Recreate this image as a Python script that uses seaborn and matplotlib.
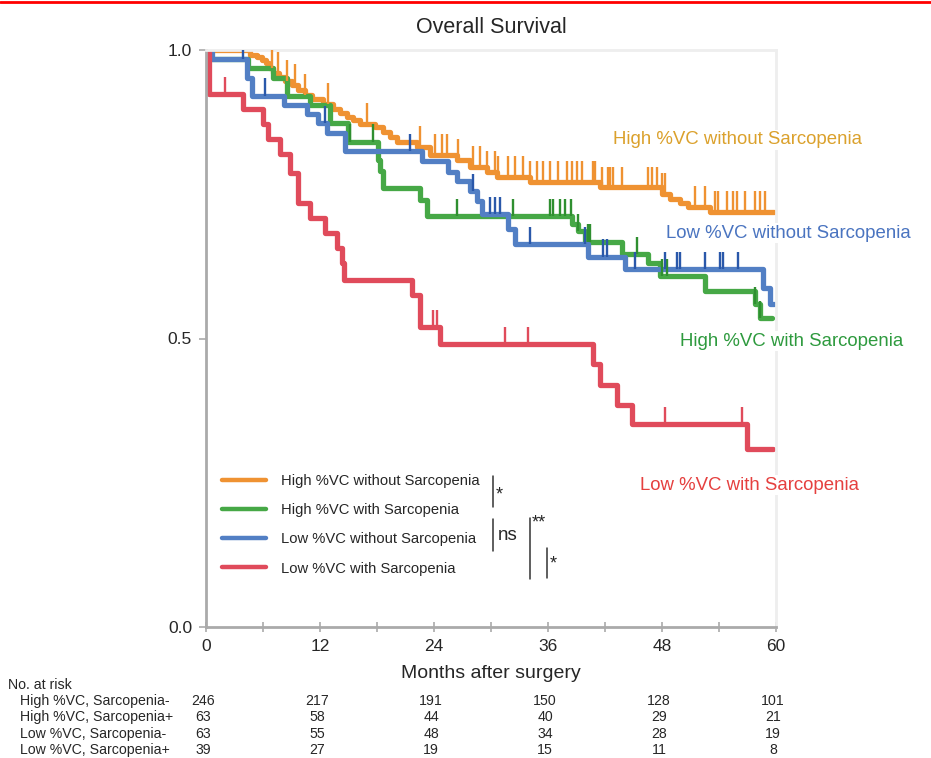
import numpy as np
import pandas as pd
import seaborn as sns
import matplotlib.pyplot as plt
from matplotlib.lines import Line2D
from matplotlib.transforms import blended_transform_factory

sns.set_style("ticks")
plt.rcParams['font.family'] = ['Liberation Sans', 'DejaVu Sans']

# Groups, in legend order
groups = ["High %VC without Sarcopenia", "High %VC with Sarcopenia",
          "Low %VC without Sarcopenia", "Low %VC with Sarcopenia"]

# Kaplan-Meier steps: month of each drop and survival after it
hi_nosarc_t = [0, 4.6, 5.4, 5.9, 6.3, 6.6, 7.1, 7.7, 8.3, 9.1, 9.7, 10.4, 11.2, 12.3, 13.4, 14.1,
               14.8, 15.5, 16.2, 17.8, 18.6, 19.4, 20.1, 22.2, 23.6, 26.4, 27.8, 29.6, 30.6, 34.1,
               41.5, 48.0, 48.8, 49.9, 50.7, 53.1]
hi_nosarc_s = [1.0, 0.992, 0.988, 0.983, 0.977, 0.969, 0.96, 0.953, 0.946, 0.939, 0.93, 0.922,
               0.915, 0.907, 0.897, 0.89, 0.884, 0.878, 0.872, 0.866, 0.858, 0.849, 0.84, 0.832,
               0.818, 0.809, 0.797, 0.789, 0.78, 0.771, 0.762, 0.75, 0.742, 0.735, 0.728, 0.72]
hi_nosarc_cens = [6.9, 7.6, 8.5, 9.4, 10.4, 12.8, 16.9, 22.5, 24.1, 24.8, 25.4, 26.5, 28.1, 28.8,
                  29.6, 30.4, 30.7, 31.8, 32.5, 33.4, 34.1, 34.8, 35.5, 36.2, 37.1, 38.0, 38.5,
                  39.1, 39.6, 40.7, 40.9, 41.7, 42.3, 42.5, 42.8, 43.8, 46.5, 46.9, 47.5, 48.0,
                  48.3, 51.5, 52.5, 53.6, 53.9, 54.8, 55.5, 55.9, 56.7, 57.8, 58.3, 58.8]
hi_nosarc_end = 59.8

hi_sarc_t = [0, 0.4, 4.4, 7.1, 8.5, 10.9, 13.1, 14.9, 18.1, 18.3, 18.6, 22.5, 23.3, 38.5, 39.2,
             39.9, 43.8, 46.5, 47.8, 52.5, 57.8, 58.3]
hi_sarc_s = [1.0, 0.984, 0.968, 0.952, 0.921, 0.905, 0.873, 0.841, 0.81, 0.79, 0.76, 0.74, 0.712,
             0.698, 0.686, 0.668, 0.646, 0.63, 0.608, 0.582, 0.559, 0.535]
hi_sarc_cens = [15.2, 17.6, 26.4, 32.3, 36.2, 36.5, 37.3, 37.8, 38.4, 39.2, 40.2, 40.4, 45.4,
                48.0, 48.5, 57.8, 58.3]
hi_sarc_end = 59.6

lo_nosarc_t = [0, 0.6, 4.3, 4.8, 8.2, 10.6, 11.8, 12.7, 14.6, 22.7, 25.5, 26.4, 27.8, 28.5, 29.1,
               31.8, 32.5, 40.2, 44.1, 58.6, 59.4]
lo_nosarc_s = [1.0, 0.984, 0.952, 0.921, 0.905, 0.889, 0.873, 0.857, 0.825, 0.808, 0.789, 0.773,
               0.755, 0.738, 0.715, 0.689, 0.663, 0.642, 0.62, 0.587, 0.559]
lo_nosarc_cens = [3.9, 6.2, 12.5, 21.5, 28.1, 29.9, 30.4, 30.9, 34.1, 39.9, 41.8, 42.2, 45.2,
                  48.3, 49.6, 49.9, 52.5, 54.1, 54.4, 56.0]
lo_nosarc_end = 59.8

lo_sarc_t = [0, 0.3, 3.9, 6.0, 6.5, 7.8, 8.8, 9.7, 10.9, 12.5, 13.8, 14.3, 14.5, 21.7, 22.5, 24.6,
             40.7, 41.5, 43.3, 44.8, 56.9]
lo_sarc_s = [1.0, 0.923, 0.897, 0.872, 0.846, 0.82, 0.787, 0.735, 0.709, 0.683, 0.657, 0.631,
             0.601, 0.575, 0.52, 0.49, 0.455, 0.42, 0.385, 0.352, 0.309]
lo_sarc_cens = [2.0, 23.9, 24.3, 31.5, 33.9, 48.3, 56.4]
lo_sarc_end = 59.7

# Number at risk table
risk_title = "No. at risk"
risk_labels = ["High %VC, Sarcopenia-", "High %VC, Sarcopenia+",
               "Low %VC, Sarcopenia-", "Low %VC, Sarcopenia+"]
risk_months = [0, 12, 24, 36, 48, 60]
risk_hi_nosarc = [246, 217, 191, 150, 128, 101]
risk_hi_sarc = [63, 58, 44, 40, 29, 21]
risk_lo_nosarc = [63, 55, 48, 34, 28, 19]
risk_lo_sarc = [39, 27, 19, 15, 11, 8]

line_colors = ["#EF9232", "#46A846", "#527FC4", "#E04B5B"]
tick_colors = ["#EF9232", "#2F8F30", "#2A58AA", "#E04B5B"]
label_colors = ["#DBA12C", "#2E9A3E", "#4A74C0", "#E5403F"]

curves = [
    (hi_nosarc_t, hi_nosarc_s, hi_nosarc_end, hi_nosarc_cens),
    (hi_sarc_t, hi_sarc_s, hi_sarc_end, hi_sarc_cens),
    (lo_nosarc_t, lo_nosarc_s, lo_nosarc_end, lo_nosarc_cens),
    (lo_sarc_t, lo_sarc_s, lo_sarc_end, lo_sarc_cens),
]

rows = []
for name, (t, s, end, _) in zip(groups, curves):
    for ti, si in zip(t + [end], s + [s[-1]]):
        rows.append({"month": ti, "surv": si, "group": name})
df = pd.DataFrame(rows)

W, H = 931, 758
fig = plt.figure(figsize=(W / 100, H / 100), dpi=100)
ax = fig.add_axes([206 / W, 1 - 627 / H, 570 / W, 577 / H])


def fx(px):
    return px / W


def fy(py):
    return 1 - py / H


sns.lineplot(data=df, x="month", y="surv", hue="group", hue_order=groups,
             palette=line_colors, drawstyle="steps-post", estimator=None, sort=False,
             linewidth=3.8, ax=ax)

# censoring marks: short upward ticks
for (t, s, end, cens), col, h in zip(curves, tick_colors, [0.036, 0.03, 0.03, 0.03]):
    idx = np.searchsorted(np.array(t), np.array(cens), side="right") - 1
    base = np.array(s)[idx]
    ax.vlines(cens, base, base + h, color=col, lw=1.7, zorder=5)

ax.set_xlim(0, 60)
ax.set_ylim(0, 1.0)
ax.set_xticks(risk_months)
ax.set_xticks(np.arange(6, 60, 12), minor=True)
ax.set_yticks([0, 0.5, 1.0])
ax.set_yticklabels(["0.0", "0.5", "1.0"])
ax.tick_params(axis="x", which="both", direction="inout", length=7, width=1.2,
               color="#aaaaaa", labelsize=12.5, pad=5)
ax.tick_params(axis="y", direction="out", length=5, width=1.2, color="#aaaaaa",
               labelsize=12.5, pad=5)
for sp in ["left", "bottom"]:
    ax.spines[sp].set_color("#aaaaaa")
    ax.spines[sp].set_linewidth(2)
for sp in ["top", "right"]:
    ax.spines[sp].set_color("#eeeeee")
    ax.spines[sp].set_linewidth(2)
ax.set_xlabel("Months after surgery", fontsize=14, labelpad=8)
ax.set_ylabel("")
ax.set_title("Overall Survival", fontsize=15.5, pad=12)

sns.move_legend(ax, "center left", bbox_to_anchor=(0.028, 0.177), frameon=False,
                title=None, fontsize=10.6, handlelength=3.0, handletextpad=1.0,
                labelspacing=1.03, borderpad=0, borderaxespad=0)
for line in ax.get_legend().get_lines():
    line.set_linewidth(3.2)

# curve labels at the right
label_pos = [(613, 140), (680, 341), (666, 233), (640, 485)]
for name, (px, py), col in zip(groups, label_pos, label_colors):
    fig.text(fx(px), fy(py), name, color=col, fontsize=13.4, ha="left", va="center",
             bbox=dict(fc="white", ec="none", pad=1))

# significance brackets
for (x0, y0, y1) in [(493, 476, 507), (493, 519, 551), (530, 518, 579), (547, 548, 578)]:
    fig.add_artist(Line2D([fx(x0), fx(x0)], [fy(y0), fy(y1)], color="#333333", lw=1.1))
fig.text(fx(496), fy(486), "*", fontsize=13, va="top", ha="left")
fig.text(fx(498), fy(535), "ns", fontsize=13.5, va="center", ha="left")
fig.text(fx(532), fy(514), "**", fontsize=13, va="top", ha="left")
fig.text(fx(550), fy(555), "*", fontsize=13, va="top", ha="left")

# number at risk table
fig.text(fx(8), fy(685), risk_title, fontsize=10.2, va="center", ha="left")
trans = blended_transform_factory(ax.transData, fig.transFigure)
for i, (lab, vals) in enumerate(zip(risk_labels,
                                    [risk_hi_nosarc, risk_hi_sarc, risk_lo_nosarc, risk_lo_sarc])):
    yy = fy(701 + 16.3 * i)
    fig.text(fx(20), yy, lab, fontsize=10.2, va="center", ha="left")
    for m, v in zip(risk_months, vals):
        ax.text(m - 0.3, yy, str(v), transform=trans, fontsize=10.2, va="center",
                ha="center", clip_on=False)

# red rule at the very top of the page
fig.add_artist(Line2D([0, 1], [fy(1.5), fy(1.5)], color="#ff0000", lw=2))

fig.savefig("out.png", dpi=100)
